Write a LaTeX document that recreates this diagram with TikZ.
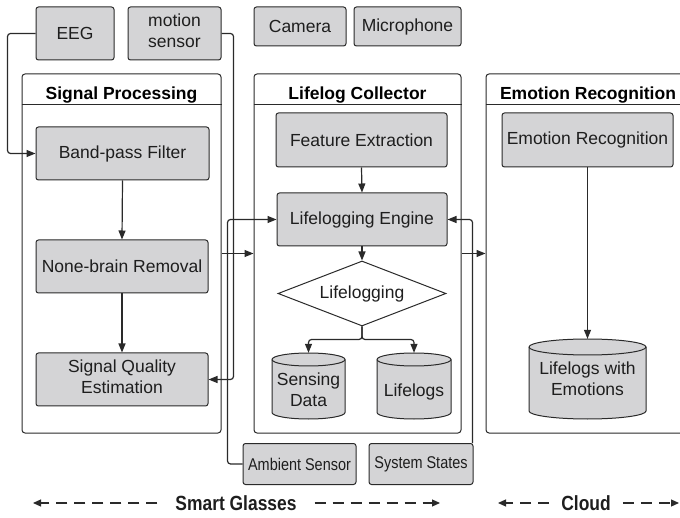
\documentclass[tikz,border=0pt]{standalone}
\usepackage{fontspec}
\setmainfont{Liberation Sans}
\newfontfamily\narrowfont[FakeStretch=0.85]{Liberation Sans}
\usetikzlibrary{shapes.geometric,arrows.meta,calc}
\definecolor{boxfill}{HTML}{D4D4D6}
\definecolor{linec}{HTML}{2A2A2A}
\definecolor{txt}{HTML}{1E1E1E}
\newcommand\mycyl[5]{%
  \pgfmathsetmacro\rx{(#3-#1)/2}%
  \draw[cylst] (#1,#4-#5) arc[start angle=180,end angle=360,x radius=\rx pt,y radius=#5pt]
     -- (#3,#2+#5) arc[start angle=0,end angle=180,x radius=\rx pt,y radius=#5pt] -- cycle;
  \draw[cylst,fill=none] (#1,#2+#5) arc[start angle=180,end angle=360,x radius=\rx pt,y radius=#5pt];
}
\begin{document}
\begin{tikzpicture}[x=1pt,y=-1pt,
  mainf/.style={font=\fontsize{17.5}{21}\selectfont},
  gbox/.style={draw=linec, fill=boxfill, line width=1pt, rounded corners=2.5pt, inner sep=0pt, align=center, text=txt, mainf},
  cont/.style={draw=linec, fill=white, line width=1pt, rounded corners=3pt, inner sep=0pt},
  head/.style={font=\bfseries\fontsize{17.5}{21}\selectfont, text=black, anchor=base},
  cylst/.style={draw=linec, fill=boxfill, line width=1pt},
  cyltext/.style={inner sep=0pt, align=center, text=txt, mainf, minimum width=60pt},
  conn/.style={draw=linec, line width=1.2pt, rounded corners=3pt},
  arr/.style={conn, -{Triangle[length=9pt,width=7pt]}},
  smallbox/.style={gbox, font=\narrowfont\fontsize{17}{20}\selectfont},
  bottomlbl/.style={font=\narrowfont\bfseries\fontsize{20.5}{24}\selectfont, text=txt, inner ysep=0pt},
  dasharr/.style={draw=linec, line width=1.2pt, dash pattern=on 11pt off 7pt, -{Triangle[length=8pt,width=7pt]}},
  uptext/.style={label={[mainf, align=center, text=txt, yshift=3pt, inner sep=0pt]center:#1}}
]
\useasboundingbox (0,0) rectangle (680,518);
\begin{scope}
\clip (0,0) rectangle (680,518);

% containers
\node[cont, minimum width=199pt, minimum height=359pt] (sp) at (121.5,253.5) {};
\node[cont, minimum width=207pt, minimum height=359pt] (lc) at (357.5,253.5) {};
\node[cont, minimum width=220pt, minimum height=359pt] (er) at (596,253.5) {};
\draw[draw=linec, line width=1pt] (sp.west |- 0,105) -- (sp.east |- 0,105);
\draw[draw=linec, line width=1pt] (lc.west |- 0,105) -- (lc.east |- 0,105);
\draw[draw=linec, line width=1pt] (er.west |- 0,105) -- (er.east |- 0,105);
\node[head] (sph) at (121.5,99.5) {Signal Processing};
\node[head] (lch) at (357.5,99.5) {Lifelog Collector};
\node[head] (erh) at (588,99.5) {Emotion Recognition};

% sensors
\node[gbox, minimum width=78pt, minimum height=53pt] (eeg) at (75,33.5) {EEG};
\node[gbox, minimum width=93pt, minimum height=53pt, uptext={motion\\sensor}] (ms) at (174.5,33.5) {};
\node[gbox, minimum width=92pt, minimum height=39pt] (cam) at (300,26.5) {Camera};
\node[gbox, minimum width=107pt, minimum height=39pt] (mic) at (407.5,26.5) {Microphone};
\node[smallbox, minimum width=113pt, minimum height=41pt] (amb) at (299.5,464) {Ambient Sensor};
\node[smallbox, minimum width=104pt, minimum height=41pt] (ss) at (421,464) {System States};

% signal processing
\node[gbox, minimum width=173pt, minimum height=53pt] (bpf) at (122.5,153.5) {Band-pass Filter};
\node[gbox, minimum width=172pt, minimum height=53pt] (nbr) at (122,266.5) {None-brain Removal};
\node[gbox, minimum width=172pt, minimum height=53pt, uptext={Signal Quality\\Estimation}] (sqe) at (122,379.5) {};

% lifelog collector
\node[gbox, minimum width=171pt, minimum height=54pt] (fe) at (361.5,140) {Feature Extraction};
\node[gbox, minimum width=170pt, minimum height=53pt] (le) at (362,219.5) {Lifelogging Engine};
\node[draw=linec, fill=white, line width=1pt, diamond, aspect=2.58, minimum width=168pt, minimum height=65pt, inner sep=0pt, text=txt, mainf] (dia) at (362,293.5) {Lifelogging};
\mycyl{272}{353}{345}{419}{6.5}
\node[cyltext, minimum height=73pt] (sd) at (308.5,389.5) {Sensing\\Data};
\mycyl{377}{353}{451}{419}{6.5}
\node[cyltext, minimum height=78pt] (ll) at (414,392) {Lifelogs};

% emotion recognition
\node[gbox, minimum width=171pt, minimum height=54pt] (erb) at (587.5,140) {Emotion Recognition};
\mycyl{529}{339}{646}{419}{8}
\node[cyltext, minimum height=79pt] (lwe) at (587.5,378.5) {Lifelogs with\\Emotions};

% connectors
\draw[arr] (eeg.west) -- ++(-28,0) |- (bpf.west);
\draw[arr] (ms.east) -- ++(12,0) |- (sqe.east);
\draw[arr] (bpf.south) -- (nbr.north);
\draw[arr] (nbr.south) -- (sqe.north);
\draw[arr] (sp.east) -- (lc.west);
\draw[arr] (lc.east) -- (er.west);
\draw[arr] (amb.west) -- ++(-15,0) |- (le.west);
\draw[arr] ($(ss.north east)+(-1,0)$) |- (le.east);
\draw[arr] (fe.south) -- (le.north);
\draw[arr] (le.south) -- (dia.north);
\draw[arr] (dia.south) -- ++(0,13) -| (sd.north);
\draw[arr] (dia.south) -- ++(0,13) -| (ll.north);
\draw[arr] (erb.south) -- (lwe.north);

% bottom labels
\node[bottomlbl, inner xsep=18pt] (sg) at (236,503) {Smart Glasses};
\coordinate (sgl) at (33,503);
\coordinate (sgr) at (440,503);
\draw[dasharr] (sg.west) -- (sgl);
\draw[dasharr] (sg.east) -- (sgr);
\node[bottomlbl, inner xsep=12pt] (cl) at (586,503) {Cloud};
\coordinate (cll) at (498,503);
\coordinate (clr) at (679,503);
\draw[dasharr] (cl.west) -- (cll);
\draw[dasharr] (cl.east) -- (clr);
\end{scope}
\end{tikzpicture}
\end{document}
